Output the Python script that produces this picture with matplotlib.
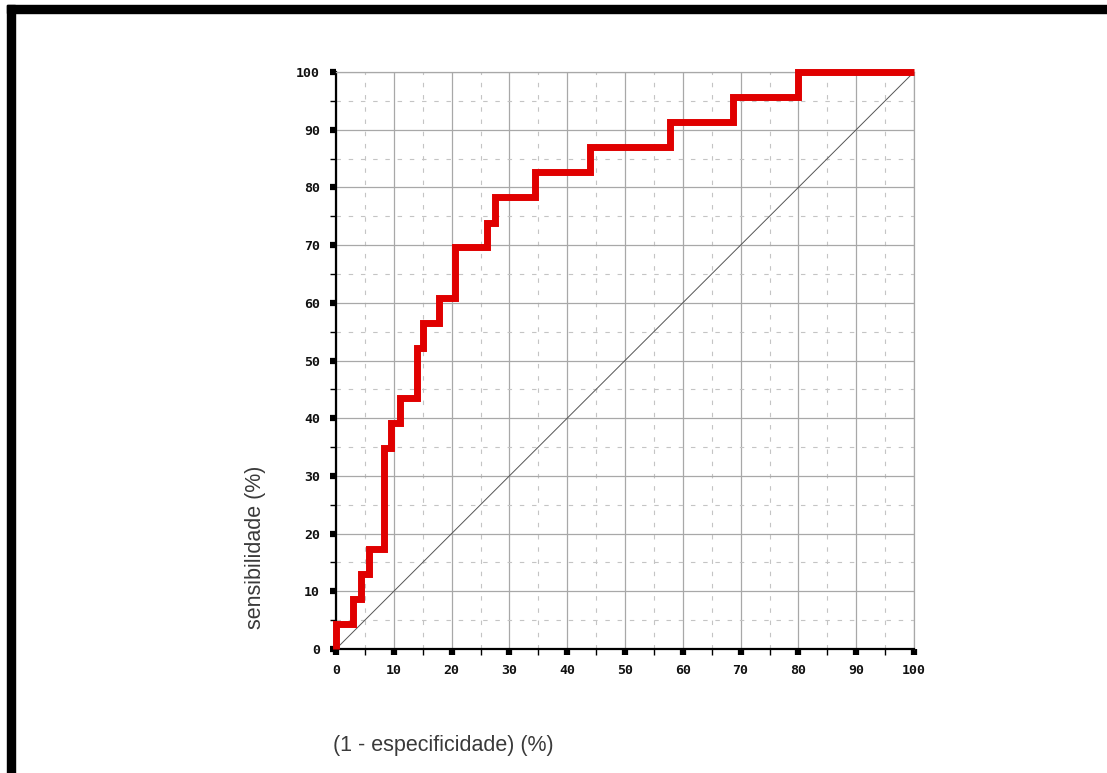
import matplotlib.pyplot as plt
from matplotlib.patches import Rectangle
from matplotlib.ticker import MultipleLocator

# pontos da curva ROC (degraus)
fpr = [0, 0, 2.9, 4.3, 5.7, 8.3, 9.6, 11.1, 14.0, 15.0, 17.9, 20.6, 26.2, 27.5,
       34.4, 44.0, 57.8, 68.7, 79.9, 100]
tpr = [0, 4.3, 8.7, 13.0, 17.4, 34.8, 39.1, 43.5, 52.2, 56.5, 60.9, 69.6, 73.9,
       78.3, 82.6, 87.0, 91.3, 95.7, 100, 100]
ticks = [0, 10, 20, 30, 40, 50, 60, 70, 80, 90, 100]

fig = plt.figure(figsize=(11.07, 7.73), dpi=100)
ax = fig.add_axes([336 / 1107, 124 / 773, 578 / 1107, 577 / 773])

# moldura preta
fig.patches.append(Rectangle((7 / 1107, 0), 8 / 1107, 768 / 773,
                             transform=fig.transFigure, color="black"))
fig.patches.append(Rectangle((7 / 1107, 760 / 773), 1, 8 / 773,
                             transform=fig.transFigure, color="black"))

ax.set_xlim(0, 100)
ax.set_ylim(0, 100)
ax.xaxis.set_major_locator(MultipleLocator(10))
ax.yaxis.set_major_locator(MultipleLocator(10))
ax.xaxis.set_minor_locator(MultipleLocator(5))
ax.yaxis.set_minor_locator(MultipleLocator(5))

ax.grid(True, which="major", color="#a8a8a8", linewidth=0.9, linestyle="-")
ax.grid(True, which="minor", color="#c4c4c4", linewidth=0.8,
        linestyle=(0, (4, 7)))
ax.set_axisbelow(True)

ax.plot([0, 100], [0, 100], color="#555555", linewidth=0.7)
ax.step(fpr, tpr, where="post", color="#e00000", linewidth=5,
        solid_capstyle="butt", solid_joinstyle="miter", clip_on=False,
        zorder=3)

for s in ["top", "right"]:
    ax.spines[s].set_color("#a8a8a8")
    ax.spines[s].set_linewidth(0.9)
for s in ["left", "bottom"]:
    ax.spines[s].set_color("black")
    ax.spines[s].set_linewidth(1.6)

ax.tick_params(which="major", length=4.5, width=4.5, direction="out",
               color="black", pad=6, labelsize=9.5)
ax.tick_params(which="minor", length=4, width=1, direction="out",
               color="black")
ax.tick_params(axis="y", which="major", pad=7)
ax.set_xticks(ticks)
ax.set_yticks(ticks)
ax.set_xticklabels([str(t) for t in ticks], family="DejaVu Sans Mono",
                   fontweight="bold", color="#111111")
ax.set_yticklabels([str(t) for t in ticks], family="DejaVu Sans Mono",
                   fontweight="bold", color="#111111")

fig.text(255 / 1107, (773 - 547) / 773, "sensibilidade (%)", rotation=90,
         ha="center", va="center", fontsize=15.5, color="#3a3a3a",
         family="Liberation Sans")
fig.text(333 / 1107, (773 - 746) / 773, "(1 - especificidade) (%)",
         ha="left", va="center", fontsize=15.5, color="#3a3a3a",
         family="Liberation Sans")

fig.savefig("out.png", dpi=100)
